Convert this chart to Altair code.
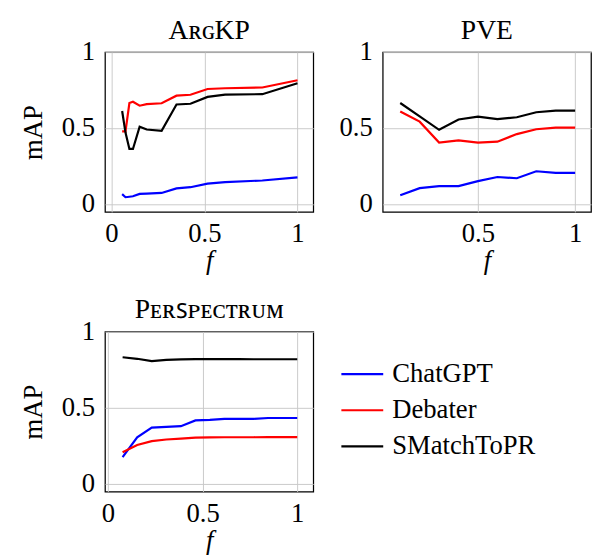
import altair as alt
import pandas as pd

models = ["ChatGPT", "Debater", "SMatchToPR"]
colors = ["#0000ff", "#ff0000", "#000000"]

# ArgKP
argkp_f = [0.058, 0.076, 0.097, 0.116, 0.152, 0.19, 0.27, 0.35, 0.425, 0.517, 0.611, 0.811, 1.0]
argkp_chatgpt = [0.064, 0.044, 0.047, 0.05, 0.066, 0.068, 0.072, 0.102, 0.11, 0.133, 0.144, 0.154, 0.175]
argkp_debater = [0.478, 0.478, 0.665, 0.673, 0.647, 0.657, 0.663, 0.713, 0.719, 0.757, 0.762, 0.767, 0.815]
argkp_smatch = [0.612, 0.47, 0.362, 0.362, 0.509, 0.49, 0.482, 0.655, 0.66, 0.705, 0.72, 0.723, 0.795]

# PVE
pve_f = [0.1, 0.2, 0.3, 0.4, 0.5, 0.6, 0.7, 0.8, 0.9, 1.0]
pve_chatgpt = [0.057, 0.104, 0.117, 0.117, 0.15, 0.177, 0.169, 0.215, 0.204, 0.204]
pve_debater = [0.609, 0.542, 0.404, 0.419, 0.404, 0.41, 0.46, 0.492, 0.502, 0.502]
pve_smatch = [0.665, 0.577, 0.488, 0.556, 0.575, 0.559, 0.571, 0.604, 0.615, 0.615]

# Perspectrum
persp_f = [0.077, 0.154, 0.231, 0.308, 0.385, 0.462, 0.538, 0.615, 0.692, 0.769, 0.846, 0.923, 1.0]
persp_chatgpt = [0.174, 0.304, 0.368, 0.373, 0.378, 0.416, 0.419, 0.426, 0.426, 0.426, 0.432, 0.432, 0.432]
persp_debater = [0.206, 0.254, 0.279, 0.29, 0.296, 0.303, 0.304, 0.305, 0.305, 0.305, 0.306, 0.306, 0.306]
persp_smatch = [0.832, 0.822, 0.807, 0.815, 0.818, 0.82, 0.82, 0.82, 0.82, 0.819, 0.819, 0.819, 0.819]


def frame(fs, series):
    rows = []
    for m, vals in zip(models, series):
        for f, v in zip(fs, vals):
            rows.append({"model": m, "f": f, "mAP": v})
    return pd.DataFrame(rows)


SERIF = "Liberation Serif"
FS = 28


def panel(df, title, xdomain, xvalues, ytitle, legend):
    return (
        alt.Chart(df)
        .mark_line(strokeWidth=2.3, clip=True)
        .encode(
            x=alt.X(
                "f:Q",
                scale=alt.Scale(domain=xdomain, nice=False, zero=False),
                axis=alt.Axis(values=xvalues, format="~g", title="f",
                              titleFontStyle="italic", labelPadding=9,
                              titlePadding=1),
            ),
            y=alt.Y(
                "mAP:Q",
                scale=alt.Scale(domain=[-0.053, 1.0], nice=False, zero=False),
                axis=alt.Axis(values=[0, 0.5, 1], format="~g", title=ytitle,
                              labelPadding=11, titlePadding=15),
            ),
            color=alt.Color(
                "model:N",
                scale=alt.Scale(domain=models, range=colors),
                legend=legend,
            ),
        )
        .properties(
            width=219,
            height=168,
            title=alt.TitleParams(title, font=SERIF, fontSize=29, fontWeight="normal",
                                  baseline="alphabetic", offset=-29, anchor="middle"),
        )
    )


leg = alt.Legend(
    orient="none", legendX=247, legendY=21, title=None,
    symbolType="stroke", symbolSize=1936, symbolStrokeWidth=2.3,
    labelFont=SERIF, labelFontSize=FS, labelOffset=8, rowPadding=0,
    labelLimit=400,
)

p1 = panel(frame(argkp_f, [argkp_chatgpt, argkp_debater, argkp_smatch]),
           "A\u0280\u0262KP", [-0.034, 1.085], [0, 0.5, 1], "mAP", None)
p2 = panel(frame(pve_f, [pve_chatgpt, pve_debater, pve_smatch]),
           "PVE", [0.01, 1.082], [0.5, 1], None, None)
p3 = panel(frame(persp_f, [persp_chatgpt, persp_debater, persp_smatch]),
           "P\u1d07\u0280\ua731\u1d18\u1d07\u1d04\u1d1b\u0280\u1d1c\u1d0d",
           [-0.016, 1.085], [0, 0.5, 1], "mAP", leg)

top = alt.hconcat(p1, p2, spacing=25)
chart = (
    alt.vconcat(top, p3, spacing=21)
    .resolve_scale(color="independent")
    .properties(padding={"left": 12, "top": -6, "right": 0, "bottom": 0})
    .configure_view(stroke="#000000", strokeWidth=1.3)
    .configure_axis(
        labelFont=SERIF, labelFontSize=FS, labelColor="#000000",
        titleFont=SERIF, titleFontSize=FS, titleFontWeight="normal", titleColor="#000000",
        domain=False, ticks=False, grid=True, gridColor="#c8c8c8", gridWidth=1,
    )
)

chart.save("out.html", embed_options={"renderer": "svg", "actions": False})
